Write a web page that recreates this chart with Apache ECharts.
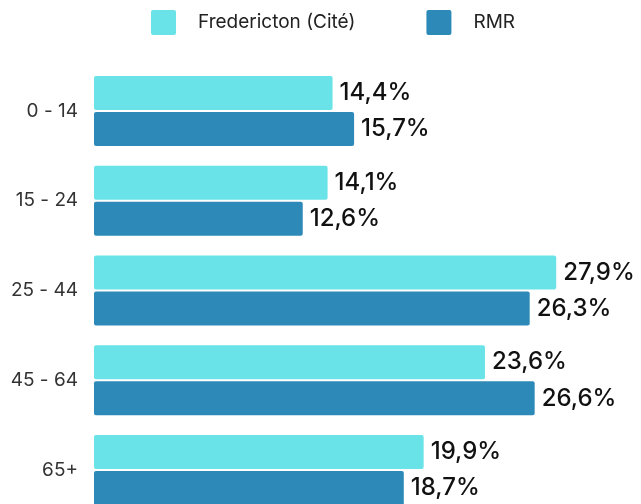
<!DOCTYPE html>
<html><head><meta charset="utf-8">
<script src="https://cdn.jsdelivr.net/npm/echarts@6/dist/echarts.min.js"></script>
<style>html,body{margin:0;padding:0;background:#fff}#c{width:641px;height:504px}</style>
</head><body><div id="c"></div>
<script>
const categories = ['0 - 14', '15 - 24', '25 - 44', '45 - 64', '65+'];
const seriesNames = ['Fredericton (Cité)', 'RMR'];
const fredericton = [14.4, 14.1, 27.9, 23.6, 19.9];
const rmr = [15.7, 12.6, 26.3, 26.6, 18.7];
const colors = ['#6ae3e8', '#2d8ab8'];

const chart = echarts.init(document.getElementById('c'), null, {renderer: 'canvas'});
const fmt = p => p.value.toFixed(1).replace('.', ',') + '%';
const label = {show: true, position: 'right', distance: 7, formatter: fmt,
  fontFamily: 'Inter', fontSize: 24, fontWeight: 500, color: '#111'};
chart.setOption({
  animation: false,
  color: colors,
  legend: {
    top: 5, left: 146, itemWidth: 25, itemHeight: 25, itemGap: 71,
    icon: 'path://M2,0H23A2,2,0,0,1,25,2V23A2,2,0,0,1,23,25H2A2,2,0,0,1,0,23V2A2,2,0,0,1,2,0Z',
    textStyle: {fontFamily: 'Inter', fontSize: 19, color: '#222', padding: [0, 0, 0, 17]},
    data: seriesNames
  },
  grid: {left: 94, width: 497, top: 66, height: 449, containLabel: false, outerBoundsMode: 'none'},
  xAxis: {type: 'value', min: 0, max: 30, show: false},
  yAxis: {type: 'category', data: categories, inverse: true,
    axisLine: {show: false}, axisTick: {show: false},
    axisLabel: {fontFamily: 'Inter', fontSize: 19, color: '#333', margin: 16}},
  series: [
    {name: seriesNames[0], type: 'bar', data: fredericton, barGap: '6%', barCategoryGap: '22%',
     itemStyle: {borderRadius: 2}, label: label},
    {name: seriesNames[1], type: 'bar', data: rmr, barGap: '6%', barCategoryGap: '22%',
     itemStyle: {borderRadius: 2}, label: label}
  ]
});
</script></body></html>
